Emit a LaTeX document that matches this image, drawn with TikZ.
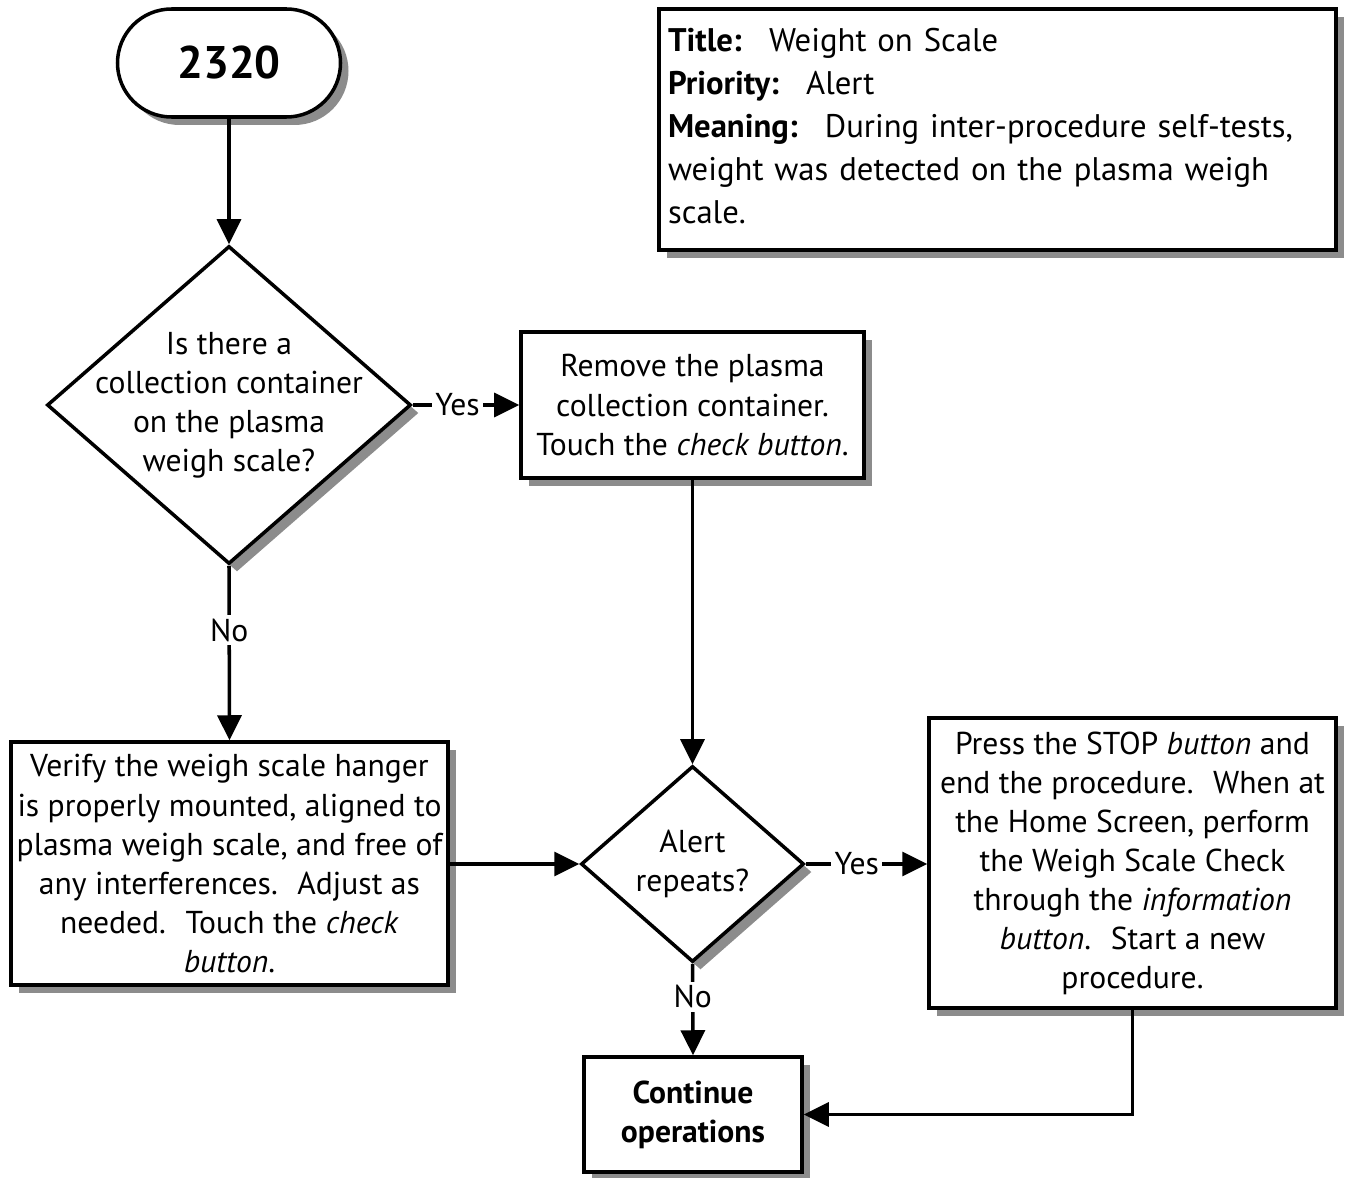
\documentclass[tikz,border=0pt]{standalone}
\usepackage{fontspec}
\setmainfont{PT Sans}
\usetikzlibrary{shapes.geometric,shadows,arrows.meta}

\begin{document}
\begin{tikzpicture}[
    every node/.style={font=\fontsize{9}{11.1}\selectfont},
    box/.style={draw, line width=1pt, fill=white, rectangle, align=center, inner sep=0pt,
        drop shadow={shadow xshift=0.08cm, shadow yshift=-0.08cm, fill=black!45, opacity=1}},
    decision/.style={draw, line width=1pt, fill=white, diamond, inner sep=0pt,
        drop shadow={shadow xshift=0.08cm, shadow yshift=-0.08cm, fill=black!45, opacity=1}},
    link/.style={line width=1pt, -{Triangle[length=0.25cm, width=0.24cm]}},
    answer/.style={fill=white, inner sep=1pt}
]
    \useasboundingbox (0,0) rectangle (13.48,-11.78);

    % Start and info
    \node[box, rounded corners=0.54cm, minimum width=2.23cm, minimum height=1.08cm,
        font=\fontsize{13}{15}\selectfont\bfseries] (start) at (2.29,-0.63) {2320};
    \node[box, minimum width=6.77cm, minimum height=2.41cm, text width=6.59cm, align=left,
        font=\fontsize{9.3}{12.2}\selectfont] (info) at (9.975,-1.295)
        {\textbf{Title:}~ Weight on Scale\\
         \textbf{Priority:}~ Alert\\
         \textbf{Meaning:}~ During inter-procedure self-tests,\\
         weight was detected on the plasma weigh\\
         scale.\vspace*{2pt}};

    % Decisions
    \node[decision, minimum width=3.64cm, minimum height=3.18cm,
        label={[align=center]center:{Is there a\\collection container\\on the plasma\\weigh scale?}}]
        (isthere) at (2.29,-4.05) {};
    \node[decision, minimum width=2.23cm, minimum height=1.96cm,
        label={[align=center]center:{Alert\\repeats?}}]
        (repeats) at (6.925,-8.64) {};

    % Actions
    \node[box, minimum width=3.43cm, minimum height=1.46cm] (remove) at (6.925,-4.05)
        {Remove the plasma\\collection container.\\Touch the \textit{check button}.};
    \node[box, minimum width=4.37cm, minimum height=2.43cm] (verify) at (2.295,-8.635)
        {Verify the weigh scale hanger\\is properly mounted, aligned to\\plasma weigh scale, and free of\\any interferences.~ Adjust as\\needed.~ Touch the \textit{check}\\\textit{button}.};
    \node[box, minimum width=4.07cm, minimum height=2.90cm] (press) at (11.325,-8.63)
        {Press the STOP \textit{button} and\\end the procedure.~ When at\\the Home Screen, perform\\the Weigh Scale Check\\through the \textit{information}\\\textit{button}.~ Start a new\\procedure.};
    \node[box, minimum width=2.18cm, minimum height=1.15cm, font=\fontsize{9}{11.1}\selectfont\bfseries]
        (cont) at (6.93,-11.145) {Continue\\operations};

    % Connections
    \draw[link] (start) -- (isthere.north);
    \draw[link] (isthere.east) -- node[answer, pos=0.42] {Yes} (remove.west);
    \draw[link] (isthere.south) -- node[answer, pos=0.37] {No} (verify.north);
    \draw[link] (remove.south) -- (repeats.north);
    \draw[link] (verify.east |- repeats.west) -- (repeats.west);
    \draw[link] (repeats.east) -- node[answer, pos=0.42] {Yes} (repeats.east -| press.west);
    \draw[link] (repeats.south) -- node[answer, pos=0.36] {No} (cont.north);
    \draw[link] (press.south) |- (cont.east);
\end{tikzpicture}
\end{document}
